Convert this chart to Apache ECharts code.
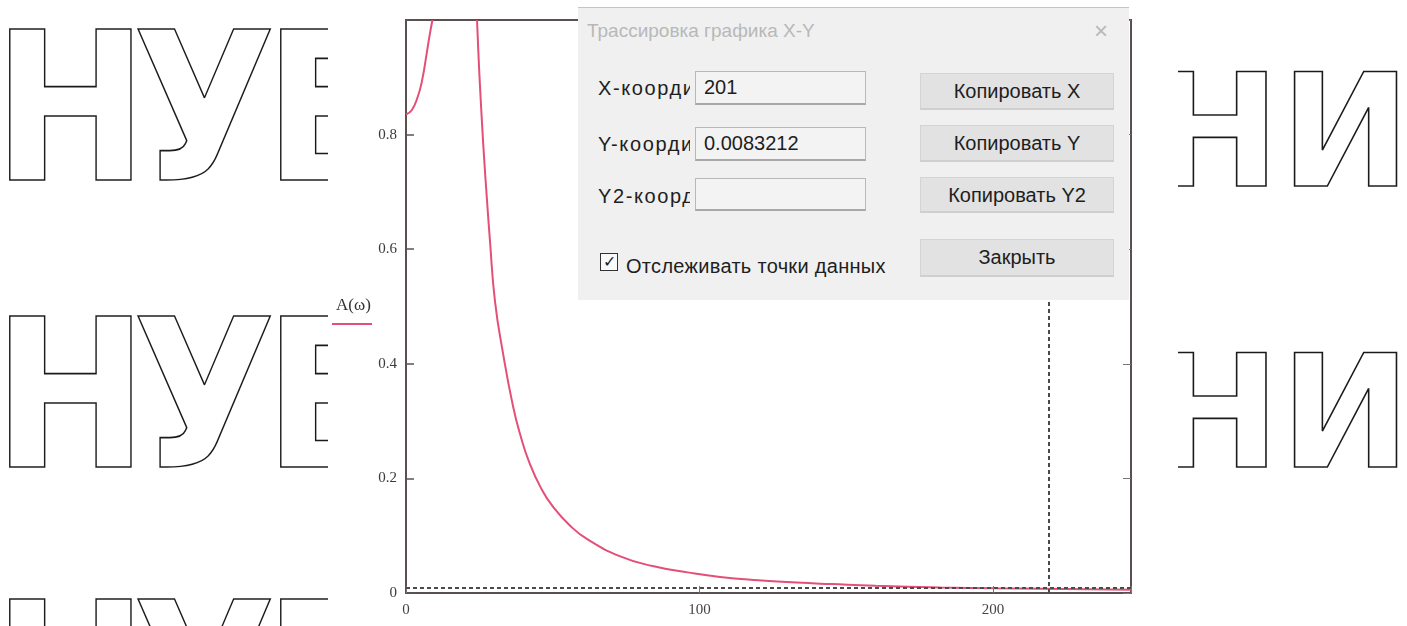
<!DOCTYPE html>
<html><head><meta charset="utf-8">
<script src="https://cdn.jsdelivr.net/npm/echarts@6/dist/echarts.min.js"></script>
<style>
html,body{margin:0;padding:0;background:#fff;overflow:hidden;}
#chart{position:absolute;left:0;top:0;width:1407px;height:626px;}
.dlg{position:absolute;left:578px;top:7px;width:551px;height:292px;background:#f0f0f0;border-top:1px solid #c4c4c4;font-family:"Liberation Sans",Arial,sans-serif;color:#1e1e1e;font-size:20px;}
.dlg div{position:absolute;white-space:nowrap;}
.title{left:9px;top:12px;color:#b8b8b8;font-size:19px;}
.close{left:516px;top:9px;color:#b8b8b8;font-size:24px;}
.lbl{left:20px;width:92px;overflow:hidden;height:26px;line-height:26px;letter-spacing:1.6px;}
.box{left:117px;width:171px;height:34px;border:1px solid #b8b8b8;border-bottom:2px solid #a8a8a8;background:#f3f3f3;line-height:31px;padding-left:8px;box-sizing:border-box;}
.btn{left:342px;width:194px;background:#e2e2e2;border:1px solid #d4d4d4;border-bottom:2px solid #cfcfcf;text-align:center;box-sizing:border-box;}
.chk{left:22px;top:245px;width:18px;height:18px;border:1.5px solid #333;box-sizing:border-box;background:#fafafa;font-size:16px;line-height:15px;text-align:center;}
</style>
</head><body>
<div id="chart"></div>
<div class="dlg">
  <div class="title">Трассировка графика X-Y</div>
  <div class="close">×</div>
  <div class="lbl" style="top:67px">X-координата:</div>
  <div class="box" style="top:63px">201</div>
  <div class="lbl" style="top:123px">Y-координата:</div>
  <div class="box" style="top:119px">0.0083212</div>
  <div class="lbl" style="top:175px">Y2-координата:</div>
  <div class="box" style="top:170px;height:33px"></div>
  <div class="btn" style="top:65px;height:37px;line-height:35px">Копировать X</div>
  <div class="btn" style="top:117px;height:37px;line-height:35px">Копировать Y</div>
  <div class="btn" style="top:169px;height:36px;line-height:34px">Копировать Y2</div>
  <div class="btn" style="top:231px;height:38px;line-height:34px">Закрыть</div>
  <div class="chk">✓</div>
  <div style="left:48px;top:245px;line-height:26px;letter-spacing:0.3px">Отслеживать точки данных</div>
</div>
<script>
// Data: A(ω) versus ω
const omega = [0, 2, 4, 5.5, 7, 8, 9, 16, 24.2, 24.6, 25.2, 25.9, 26.6, 27.6, 28.6, 30.3, 33, 36.5, 39, 42, 46, 50, 56, 62, 73, 84, 96, 107, 120, 133, 145, 160, 182, 201, 247];
const amplitude = [0.835, 0.843, 0.866, 0.895, 0.94, 0.972, 1.0, '-', 1.0, 0.95, 0.885, 0.82, 0.76, 0.685, 0.615, 0.51, 0.42, 0.325, 0.275, 0.228, 0.183, 0.151, 0.117, 0.093, 0.064, 0.047, 0.036, 0.028, 0.0222, 0.0182, 0.0155, 0.0125, 0.0098, 0.0083, 0.0055];
const xTicks = [0, 100, 200];
const yTicks = [0, 0.2, 0.4, 0.6, 0.8];
const traceY = 0.0083212;   // horizontal trace line
const traceX = 219;         // vertical trace line (as drawn)
const seriesName = 'A(ω)';
const watermarkLeft = ['Н', 'У', 'Б'];
const watermarkRight = 'НИ';

const chart = echarts.init(document.getElementById('chart'));
const serif = '"Liberation Serif","DejaVu Serif",serif';
const wm = (t, size) => ({text: t, fill: 'none', stroke: '#1a1a1a', lineWidth: 1.6, font: 'bold ' + size + 'px "DejaVu Sans", sans-serif'});

const graphics = [];
const leftXs = [-8, 132, 263];
[23, 310, 593].forEach(top => watermarkLeft.forEach((ch, i) => graphics.push({type: 'text', left: leftXs[i], top: top, z: -20, scaleX: 0.9, style: wm(ch, 206)})));
[67, 348].forEach(top => graphics.push({type: 'text', left: 1149, top: top, z: -20, style: wm(watermarkRight, 156)}));
graphics.push(
  {type: 'rect', z: -10, shape: {x: 328, y: 0, width: 850, height: 626}, style: {fill: '#fff'}},
  {type: 'text', left: 336, top: 297, z: 10, style: {text: seriesName, font: '17px ' + serif, fill: '#333'}},
  {type: 'line', z: 10, shape: {x1: 332, y1: 324, x2: 372, y2: 324}, style: {stroke: '#e44f78', lineWidth: 2}}
);

chart.setOption({
  animation: false,
  backgroundColor: '#fff',
  grid: {left: 406, right: 276, top: 20, bottom: 33, show: true, backgroundColor: '#fff', borderColor: '#5a5050', borderWidth: 2, z: 0},
  xAxis: [{
    type: 'value', min: 0, max: 247, interval: 100, z: 3,
    axisLine: {show: false}, splitLine: {show: false},
    axisTick: {show: true, inside: true, length: 7, lineStyle: {color: '#777'}},
    axisLabel: {margin: 10, color: '#444', fontFamily: serif, fontSize: 15,
      formatter: v => xTicks.includes(v) ? String(v) : ''}
  }],
  yAxis: [{
    type: 'value', min: 0, max: 1, interval: 0.2, z: 3,
    axisLine: {show: false}, splitLine: {show: false},
    axisTick: {show: true, inside: true, length: 8, lineStyle: {color: '#555', width: 1.5}},
    axisLabel: {margin: 9, color: '#3a3a3a', fontFamily: serif, fontSize: 15,
      formatter: v => { const t = yTicks.find(k => Math.abs(k - v) < 1e-9); return t === undefined ? '' : String(t); }}
  }, {
    type: 'value', min: 0, max: 1, interval: 0.2, position: 'right', z: 3,
    axisLine: {show: false}, splitLine: {show: false}, axisLabel: {show: false},
    axisTick: {show: true, inside: true, length: 8, lineStyle: {color: '#777'}}
  }],
  series: [{
    name: seriesName, type: 'line', showSymbol: false, smooth: 0.5,
    data: omega.map((x, i) => [x, amplitude[i]]),
    lineStyle: {color: '#e44f78', width: 2}, z: 4,
    markLine: {
      silent: true, symbol: 'none', label: {show: false},
      lineStyle: {color: '#4a4a4a', type: [4, 3], width: 2},
      data: [{yAxis: traceY}, {xAxis: traceX}]
    }
  }],
  graphic: graphics
});
</script>
</body></html>
